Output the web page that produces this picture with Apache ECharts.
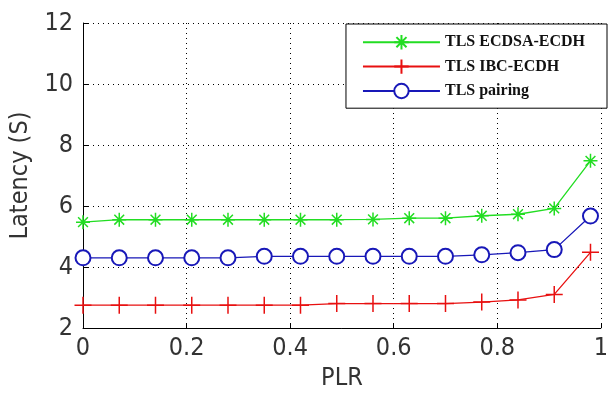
<!DOCTYPE html>
<html>
<head>
<meta charset="utf-8">
<script src="https://cdn.jsdelivr.net/npm/echarts@6/dist/echarts.min.js"></script>
<style>
  html, body { margin: 0; padding: 0; background: #fff; }
  #chart { width: 611px; height: 396px; }
</style>
</head>
<body>
<div id="chart"></div>
<script>
// PLR values (x axis)
const plr = [0, 0.07, 0.14, 0.21, 0.28, 0.35, 0.42, 0.49, 0.56, 0.63, 0.70, 0.77, 0.84, 0.91, 0.98];

// latency in seconds, one array per scheme
const ecdsaEcdh = [5.47, 5.55, 5.55, 5.55, 5.55, 5.55, 5.55, 5.55, 5.56, 5.6, 5.6, 5.68, 5.73, 5.92, 7.48];
const ibcEcdh   = [2.75, 2.75, 2.75, 2.75, 2.75, 2.75, 2.75, 2.8, 2.8, 2.8, 2.8, 2.85, 2.92, 3.1, 4.48];
const pairing   = [4.3, 4.3, 4.3, 4.3, 4.3, 4.35, 4.35, 4.35, 4.35, 4.35, 4.35, 4.4, 4.47, 4.57, 5.67];

const seriesNames = ["TLS ECDSA-ECDH", "TLS IBC-ECDH", "TLS pairing"];

const starPath = "path://M0,-10L0,10M-10,0L10,0M-7,-7L7,7M-7,7L7,-7";
const plusPath = "path://M0,-10L0,10M-10,0L10,0";

const pairs = (ys) => plr.map((x, i) => [x, ys[i]]);

// matlab-ish narrow sans for axis text
const axisFont = "'Liberation Sans Narrow', 'DejaVu Sans Condensed', 'Liberation Sans'";

const chart = echarts.init(document.getElementById("chart"));

const option = {
  animation: false,
  grid: { left: 83, right: 3, top: 23, bottom: 65 },
  legend: {
    data: seriesNames,
    orient: "vertical",
    right: 4,
    top: 24,
    padding: [10, 22, 9, 16],
    itemWidth: 77,
    itemHeight: 18,
    itemGap: 8,
    backgroundColor: "#fff",
    borderColor: "#000",
    borderWidth: 1,
    borderRadius: 0,
    textStyle: {
      fontFamily: "Liberation Serif",
      fontWeight: "bold",
      fontSize: 16,
      color: "#111",
    },
  },
  xAxis: {
    type: "value",
    min: 0,
    max: 1,
    interval: 0.2,
    name: "PLR",
    nameLocation: "middle",
    nameGap: 38,
    nameTextStyle: { fontFamily: axisFont, fontSize: 25, color: "#333" },
    axisLine: { lineStyle: { color: "#000", width: 1 } },
    axisTick: { inside: true, length: 5, lineStyle: { color: "#000" } },
    axisLabel: { fontFamily: axisFont, fontSize: 25, color: "#333", margin: 8 },
    splitLine: { show: true, lineStyle: { color: "#000", type: [1, 4], width: 1 } },
  },
  yAxis: {
    type: "value",
    min: 2,
    max: 12,
    interval: 2,
    name: "Latency (S)",
    nameLocation: "middle",
    nameGap: 49,
    nameTextStyle: { fontFamily: axisFont, fontSize: 25, color: "#333" },
    axisLine: { show: true, lineStyle: { color: "#000", width: 1 } },
    axisTick: { show: true, inside: true, length: 5, lineStyle: { color: "#000" } },
    axisLabel: { fontFamily: axisFont, fontSize: 25, color: "#333", margin: 10 },
    splitLine: { show: true, lineStyle: { color: "#000", type: [1, 4], width: 1 } },
  },
  series: [
    {
      name: seriesNames[0],
      type: "line",
      data: pairs(ecdsaEcdh),
      symbol: starPath,
      symbolSize: 14,
      lineStyle: { color: "#22dd22", width: 1.3 },
      itemStyle: { color: "#22dd22", borderColor: "#22dd22", borderWidth: 1.5 },
      z: 3,
    },
    {
      name: seriesNames[1],
      type: "line",
      data: pairs(ibcEcdh),
      symbol: plusPath,
      symbolSize: 17,
      lineStyle: { color: "#e81010", width: 1.3 },
      itemStyle: { color: "#e81010", borderColor: "#e81010", borderWidth: 1.5 },
      z: 3,
    },
    {
      name: seriesNames[2],
      type: "line",
      data: pairs(pairing),
      symbol: "emptyCircle",
      symbolSize: 15,
      lineStyle: { color: "#1818b8", width: 1.3 },
      itemStyle: { color: "#1818b8", borderWidth: 1.5 },
      z: 3,
    },
  ],
};

chart.setOption(option);
</script>
</body>
</html>
